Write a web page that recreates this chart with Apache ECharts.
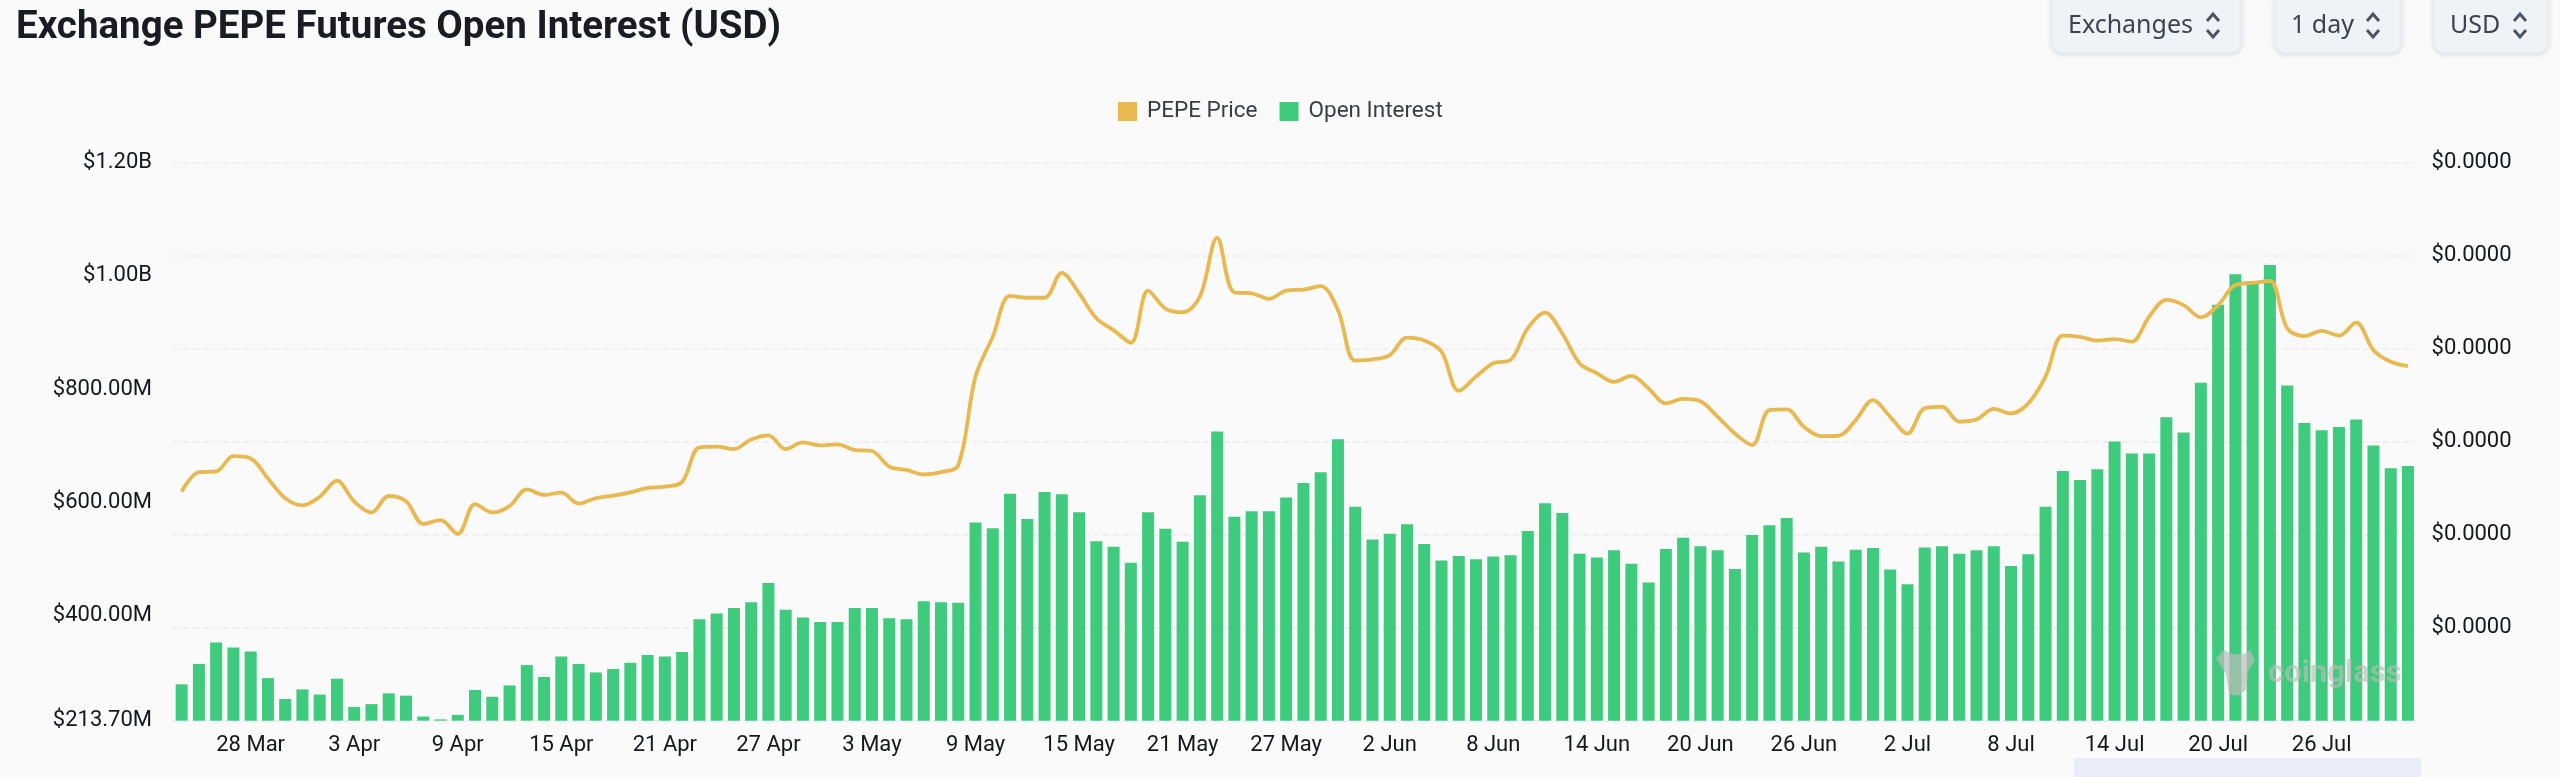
<!DOCTYPE html>
<html>
<head>
<meta charset="utf-8">
<title>Exchange PEPE Futures Open Interest (USD)</title>
<script src="https://cdn.jsdelivr.net/npm/echarts@6/dist/echarts.min.js"></script>
<style>
html, body { margin: 0; padding: 0; background: #fafafa; }
#main { width: 2560px; height: 777px; }
</style>
</head>
<body>
<div id="main"></div>
<script>
/* one label per day, 24 Mar - 31 Jul */
var days = [
  '24 Mar','25 Mar','26 Mar','27 Mar','28 Mar','29 Mar','30 Mar','31 Mar',
  '1 Apr','2 Apr','3 Apr','4 Apr','5 Apr','6 Apr','7 Apr','8 Apr','9 Apr','10 Apr','11 Apr','12 Apr','13 Apr','14 Apr','15 Apr',
  '16 Apr','17 Apr','18 Apr','19 Apr','20 Apr','21 Apr','22 Apr','23 Apr','24 Apr','25 Apr','26 Apr','27 Apr','28 Apr','29 Apr','30 Apr',
  '1 May','2 May','3 May','4 May','5 May','6 May','7 May','8 May','9 May','10 May','11 May','12 May','13 May','14 May','15 May',
  '16 May','17 May','18 May','19 May','20 May','21 May','22 May','23 May','24 May','25 May','26 May','27 May','28 May','29 May','30 May','31 May',
  '1 Jun','2 Jun','3 Jun','4 Jun','5 Jun','6 Jun','7 Jun','8 Jun','9 Jun','10 Jun','11 Jun','12 Jun','13 Jun','14 Jun','15 Jun',
  '16 Jun','17 Jun','18 Jun','19 Jun','20 Jun','21 Jun','22 Jun','23 Jun','24 Jun','25 Jun','26 Jun','27 Jun','28 Jun','29 Jun','30 Jun',
  '1 Jul','2 Jul','3 Jul','4 Jul','5 Jul','6 Jul','7 Jul','8 Jul','9 Jul','10 Jul','11 Jul','12 Jul','13 Jul','14 Jul','15 Jul',
  '16 Jul','17 Jul','18 Jul','19 Jul','20 Jul','21 Jul','22 Jul','23 Jul','24 Jul','25 Jul','26 Jul','27 Jul','28 Jul','29 Jul','30 Jul','31 Jul'
];

/* open interest, million USD */
var openInterest = [
  278,314,352,343,336,289,252,269,260,288,
  238,243,262,258,221,216,224,268,256,276,
  312,291,327,314,299,305,316,330,327,335,
  393,403,413,423,457,410,396,388,388,413,
  413,395,393,425,423,422,564,554,615,570,
  618,614,582,531,521,493,582,553,530,612,
  725,574,584,584,608,634,653,711,592,534,
  544,561,526,497,505,499,504,506,549,598,
  581,509,502,515,491,458,517,537,522,515,
  482,542,559,572,511,521,495,516,519,481,
  455,520,522,509,515,522,487,508,592,655,
  639,658,707,686,686,750,723,811,949,1003,
  991,1019,806,740,727,733,746,700,660,664
];

/* PEPE price, USD x 1e-6 */
var pepePrice = [
  6.16,6.68,6.70,7.11,7.05,6.51,5.98,5.79,6.02,6.45,
  5.89,5.60,6.04,5.90,5.29,5.39,5.02,5.82,5.60,5.77,
  6.22,6.07,6.13,5.84,5.98,6.05,6.14,6.26,6.29,6.42,
  7.35,7.37,7.30,7.56,7.67,7.30,7.48,7.40,7.43,7.28,
  7.25,6.83,6.74,6.62,6.68,6.87,9.25,10.32,11.42,11.37,
  11.37,12.04,11.49,10.82,10.50,10.16,11.56,11.08,10.98,11.40,
  12.98,11.51,11.49,11.34,11.56,11.59,11.68,11.04,9.68,9.71,
  9.83,10.30,10.22,9.92,8.87,9.25,9.61,9.70,10.55,10.97,
  10.41,9.61,9.34,9.11,9.27,8.93,8.53,8.65,8.59,8.17,
  7.72,7.41,8.35,8.37,7.90,7.65,7.66,8.08,8.62,8.17,
  7.72,8.40,8.44,8.04,8.10,8.38,8.26,8.53,9.25,10.35,
  10.32,10.22,10.26,10.19,10.86,11.31,11.17,10.84,11.17,11.71,
  11.77,11.82,10.55,10.34,10.48,10.35,10.70,9.96,9.65,9.53
];

var leftTicks = [213.7, 400, 600, 800, 1000, 1200];

var chart = echarts.init(document.getElementById('main'), null, {renderer: 'canvas'});

var labelFont = {fontFamily: 'Roboto', fontSize: 22, color: '#14171c'};

/* the select boxes in the page header */
function selectBox(x, w, text) {
  return [
    {type: 'rect', shape: {x: x, y: -12, width: w, height: 65, r: 12},
      style: {fill: '#eff2f6', stroke: '#e8ebef', lineWidth: 1, shadowBlur: 4, shadowOffsetY: 2, shadowColor: 'rgba(0,0,0,0.10)'}},
    {type: 'text', x: x + 17, y: 26, style: {text: text, fontFamily: 'Noto Sans', fontSize: 25,
      fill: '#3c4450', verticalAlign: 'middle'}},
    {type: 'polyline', shape: {points: [[x + w - 35, 21], [x + w - 29, 14], [x + w - 23, 21]]},
      style: {stroke: '#4b5563', lineWidth: 3, fill: null}},
    {type: 'polyline', shape: {points: [[x + w - 35, 30], [x + w - 29, 37], [x + w - 23, 30]]},
      style: {stroke: '#4b5563', lineWidth: 3, fill: null}}
  ];
}

var option = {
  animation: false,
  backgroundColor: '#fafafa',
  title: {
    text: 'Exchange PEPE Futures Open Interest (USD)',
    left: 11, top: 4,
    textStyle: {fontFamily: 'Roboto', fontWeight: 'bold', fontSize: 38.5, color: '#191d23'}
  },
  legend: {
    data: ['PEPE Price', 'Open Interest'],
    top: 95, left: 1113,
    icon: 'rect',
    itemWidth: 19, itemHeight: 19, itemGap: 22,
    textStyle: {fontFamily: 'Roboto', fontSize: 22.5, color: '#3a3d42', padding: [0, 0, 0, 5]}
  },
  grid: {left: 173, right: 143.4, top: 162.7, height: 558},
  xAxis: {
    type: 'category',
    data: days,
    axisLine: {show: false},
    axisTick: {show: false},
    axisLabel: Object.assign({
      margin: 14,
      interval: function (i) { return (i - 4) % 6 === 0; }
    }, labelFont)
  },
  yAxis: [
    {
      type: 'value', min: 213.7, max: 1200,
      splitLine: {show: false},
      axisLine: {show: false}, axisTick: {show: false},
      axisLabel: Object.assign({
        margin: 21,
        customValues: leftTicks,
        formatter: function (v) {
          return v >= 1000 ? '$' + (v / 1000).toFixed(2) + 'B' : '$' + v.toFixed(2) + 'M';
        }
      }, labelFont)
    },
    {
      type: 'value', position: 'right', min: 0, max: 15, interval: 2.5,
      splitLine: {show: true, lineStyle: {color: '#ececec', type: [6, 4], width: 1.5}},
      axisLine: {show: false}, axisTick: {show: false},
      axisLabel: Object.assign({
        margin: 15,
        showMinLabel: false,
        /* price is kept in millionths of a dollar */
        formatter: function (v) { return '$' + (v / 1e6).toFixed(4); }
      }, labelFont)
    }
  ],
  series: [
    {
      name: 'Open Interest', type: 'bar', yAxisIndex: 0,
      data: openInterest, barWidth: 12,
      itemStyle: {color: '#3fcb7d'}
    },
    {
      name: 'PEPE Price', type: 'line', yAxisIndex: 1,
      data: pepePrice, smooth: 0.35, showSymbol: false, symbol: 'none',
      itemStyle: {color: '#e8b950'},
      lineStyle: {color: '#e8b950', width: 3.8}
    }
  ],
  graphic: [
    {type: 'rect', shape: {x: 2074, y: 758, width: 347, height: 19}, style: {fill: '#e9edf9'}, z: 1},
    {type: 'text', x: 2268, y: 674, z: 10, style: {text: 'coinglass', fontFamily: 'Roboto', fontSize: 31,
      fontWeight: 'bold', fill: 'rgba(188,188,188,0.65)', verticalAlign: 'middle'}},
    {type: 'polygon', z: 10, shape: {points: [[2216, 658], [2224, 650], [2232, 654], [2244, 654], [2250, 650], [2255, 660], [2248, 672], [2246, 690], [2238, 696], [2229, 694], [2226, 674]]},
      style: {fill: 'rgba(188,188,188,0.7)'}}
  ].concat(selectBox(2051, 191, 'Exchanges'), selectBox(2274, 128, '1 day'), selectBox(2433, 116, 'USD'))
};

chart.setOption(option);
</script>
</body>
</html>
